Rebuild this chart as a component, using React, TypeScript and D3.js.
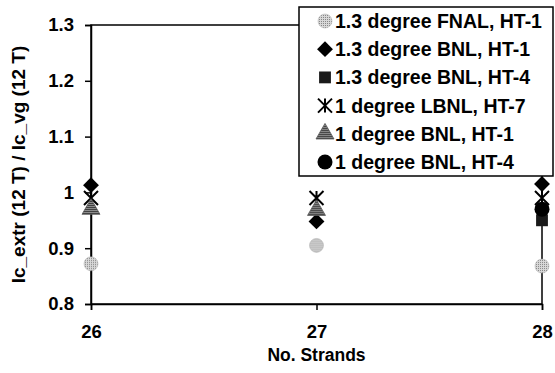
import React, { useRef, useEffect } from 'react';
import * as d3 from 'd3';

const strands = [26, 27, 28];
const yTicks = [0.8, 0.9, 1.0, 1.1, 1.2, 1.3];
const seriesNames = [
  '1.3 degree FNAL, HT-1',
  '1.3 degree BNL, HT-1',
  '1.3 degree BNL, HT-4',
  '1 degree LBNL, HT-7',
  '1 degree BNL, HT-1',
  '1 degree BNL, HT-4',
];
const fnalHt1 = [0.872, 0.905, 0.868];
const bnl13Ht1 = [1.013, 0.948, 1.015];
const bnl13Ht4 = [null, null, 0.95];
const lbnlHt7 = [0.99, 0.99, 0.99];
const bnl1Ht1 = [0.97, 0.968, null];
const bnl1Ht4 = [null, null, 0.97];
const seriesValues = [fnalHt1, bnl13Ht1, bnl13Ht4, lbnlHt7, bnl1Ht1, bnl1Ht4];

const FONT = '"Liberation Sans", Arial, sans-serif';

const App: React.FC = () => {
  const svgRef = useRef<SVGSVGElement | null>(null);
  useEffect(() => {
    if (!svgRef.current) return;
    const svg = d3.select(svgRef.current);
    svg.selectAll('*').remove();
    const [w, h] = [555, 373];
    const margin = { top: 25, right: 13, bottom: 69, left: 91 };

    const defs = svg.append('defs');
    const stip = defs.append('pattern').attr('id', 'stip').attr('width', 2).attr('height', 2).attr('patternUnits', 'userSpaceOnUse');
    stip.append('rect').attr('width', 2).attr('height', 2).attr('fill', '#d8d8d8');
    stip.append('rect').attr('width', 1).attr('height', 1).attr('fill', '#888');
    const hatch = defs.append('pattern').attr('id', 'hatch').attr('width', 2).attr('height', 2).attr('patternUnits', 'userSpaceOnUse');
    hatch.append('rect').attr('width', 2).attr('height', 2).attr('fill', '#999');
    hatch.append('rect').attr('width', 2).attr('height', 1).attr('fill', '#333');

    const x = d3.scaleLinear().domain([26, 28]).range([margin.left, w - margin.right]);
    const y = d3.scaleLinear().domain([0.8, 1.3]).range([h - margin.bottom, margin.top]);

    svg.append('rect').attr('x', margin.left).attr('y', margin.top)
      .attr('width', w - margin.right - margin.left).attr('height', h - margin.bottom - margin.top)
      .attr('fill', 'none').attr('stroke', '#000').attr('stroke-width', 1.5);

    const yAxis = svg.append('g').attr('transform', `translate(${margin.left},0)`)
      .call(d3.axisLeft(y).tickValues(yTicks).tickSize(6).tickPadding(11).tickFormat(d3.format('')));
    const xAxis = svg.append('g').attr('transform', `translate(0,${h - margin.bottom})`)
      .call(d3.axisBottom(x).tickValues(strands).tickSize(6).tickPadding(15).tickFormat(d3.format('d')));
    [yAxis, xAxis].forEach(g => {
      g.select('.domain').attr('stroke', '#000').attr('stroke-width', 1.5);
      g.selectAll('line').attr('stroke', '#000').attr('stroke-width', 1.5);
      g.selectAll('text').attr('font-family', FONT).attr('font-weight', 'bold').attr('font-size', 18.5).attr('fill', '#000');
    });

    svg.append('text').attr('transform', `translate(25,${(margin.top + h - margin.bottom) / 2}) rotate(-90)`)
      .attr('text-anchor', 'middle').attr('font-family', FONT).attr('font-weight', 'bold').attr('font-size', 19)
      .text('Ic_extr (12 T) / Ic_vg (12 T)');
    svg.append('text').attr('x', (margin.left + w - margin.right) / 2).attr('y', 361)
      .attr('text-anchor', 'middle').attr('font-family', FONT).attr('font-weight', 'bold').attr('font-size', 17.5)
      .text('No. Strands');

    const drawMarker = (g: d3.Selection<SVGGElement, unknown, null, undefined>, i: number) => {
      if (i === 0) g.append('circle').attr('r', 7).attr('fill', 'url(#stip)').attr('stroke', '#aaa').attr('stroke-width', 0.5);
      if (i === 1) g.append('path').attr('d', d3.symbol(d3.symbolDiamond2, 160)()).attr('fill', '#000');
      if (i === 2) g.append('path').attr('d', d3.symbol(d3.symbolSquare, 140)()).attr('fill', '#1a1a1a');
      if (i === 3) {
        const s = 7;
        g.append('path').attr('d', `M${-s},${-s}L${s},${s}M${s},${-s}L${-s},${s}M0,${-s}L0,${s}`)
          .attr('stroke', '#000').attr('stroke-width', 2).attr('fill', 'none');
      }
      if (i === 4) g.append('path').attr('d', d3.symbol(d3.symbolTriangle, 140)()).attr('fill', 'url(#hatch)').attr('stroke', '#555').attr('stroke-width', 0.8);
      if (i === 5) g.append('circle').attr('r', 7.5).attr('fill', '#000');
    };

    seriesValues.forEach((vals, i) => {
      vals.forEach((v, j) => {
        if (v === null) return;
        const g = svg.append('g').attr('transform', `translate(${x(strands[j])},${y(v)})`);
        drawMarker(g, i);
      });
    });

    const legend = svg.append('g');
    legend.append('rect').attr('x', 299).attr('y', 7).attr('width', 254).attr('height', 169)
      .attr('fill', '#fff').attr('stroke', '#000').attr('stroke-width', 1.5);
    seriesNames.forEach((name, i) => {
      const cy = 21 + i * 28.2;
      const g = legend.append('g').attr('transform', `translate(325,${cy})`);
      drawMarker(g, i);
      legend.append('text').attr('x', 335).attr('y', cy).attr('dy', '0.36em')
        .attr('font-family', FONT).attr('font-weight', 'bold').attr('font-size', 19.5).text(name);
    });
  }, []);
  return <svg ref={svgRef} width={555} height={373} style={{ position: 'absolute', left: 0, top: 0, background: '#fff' }} />;
};

export default App;
